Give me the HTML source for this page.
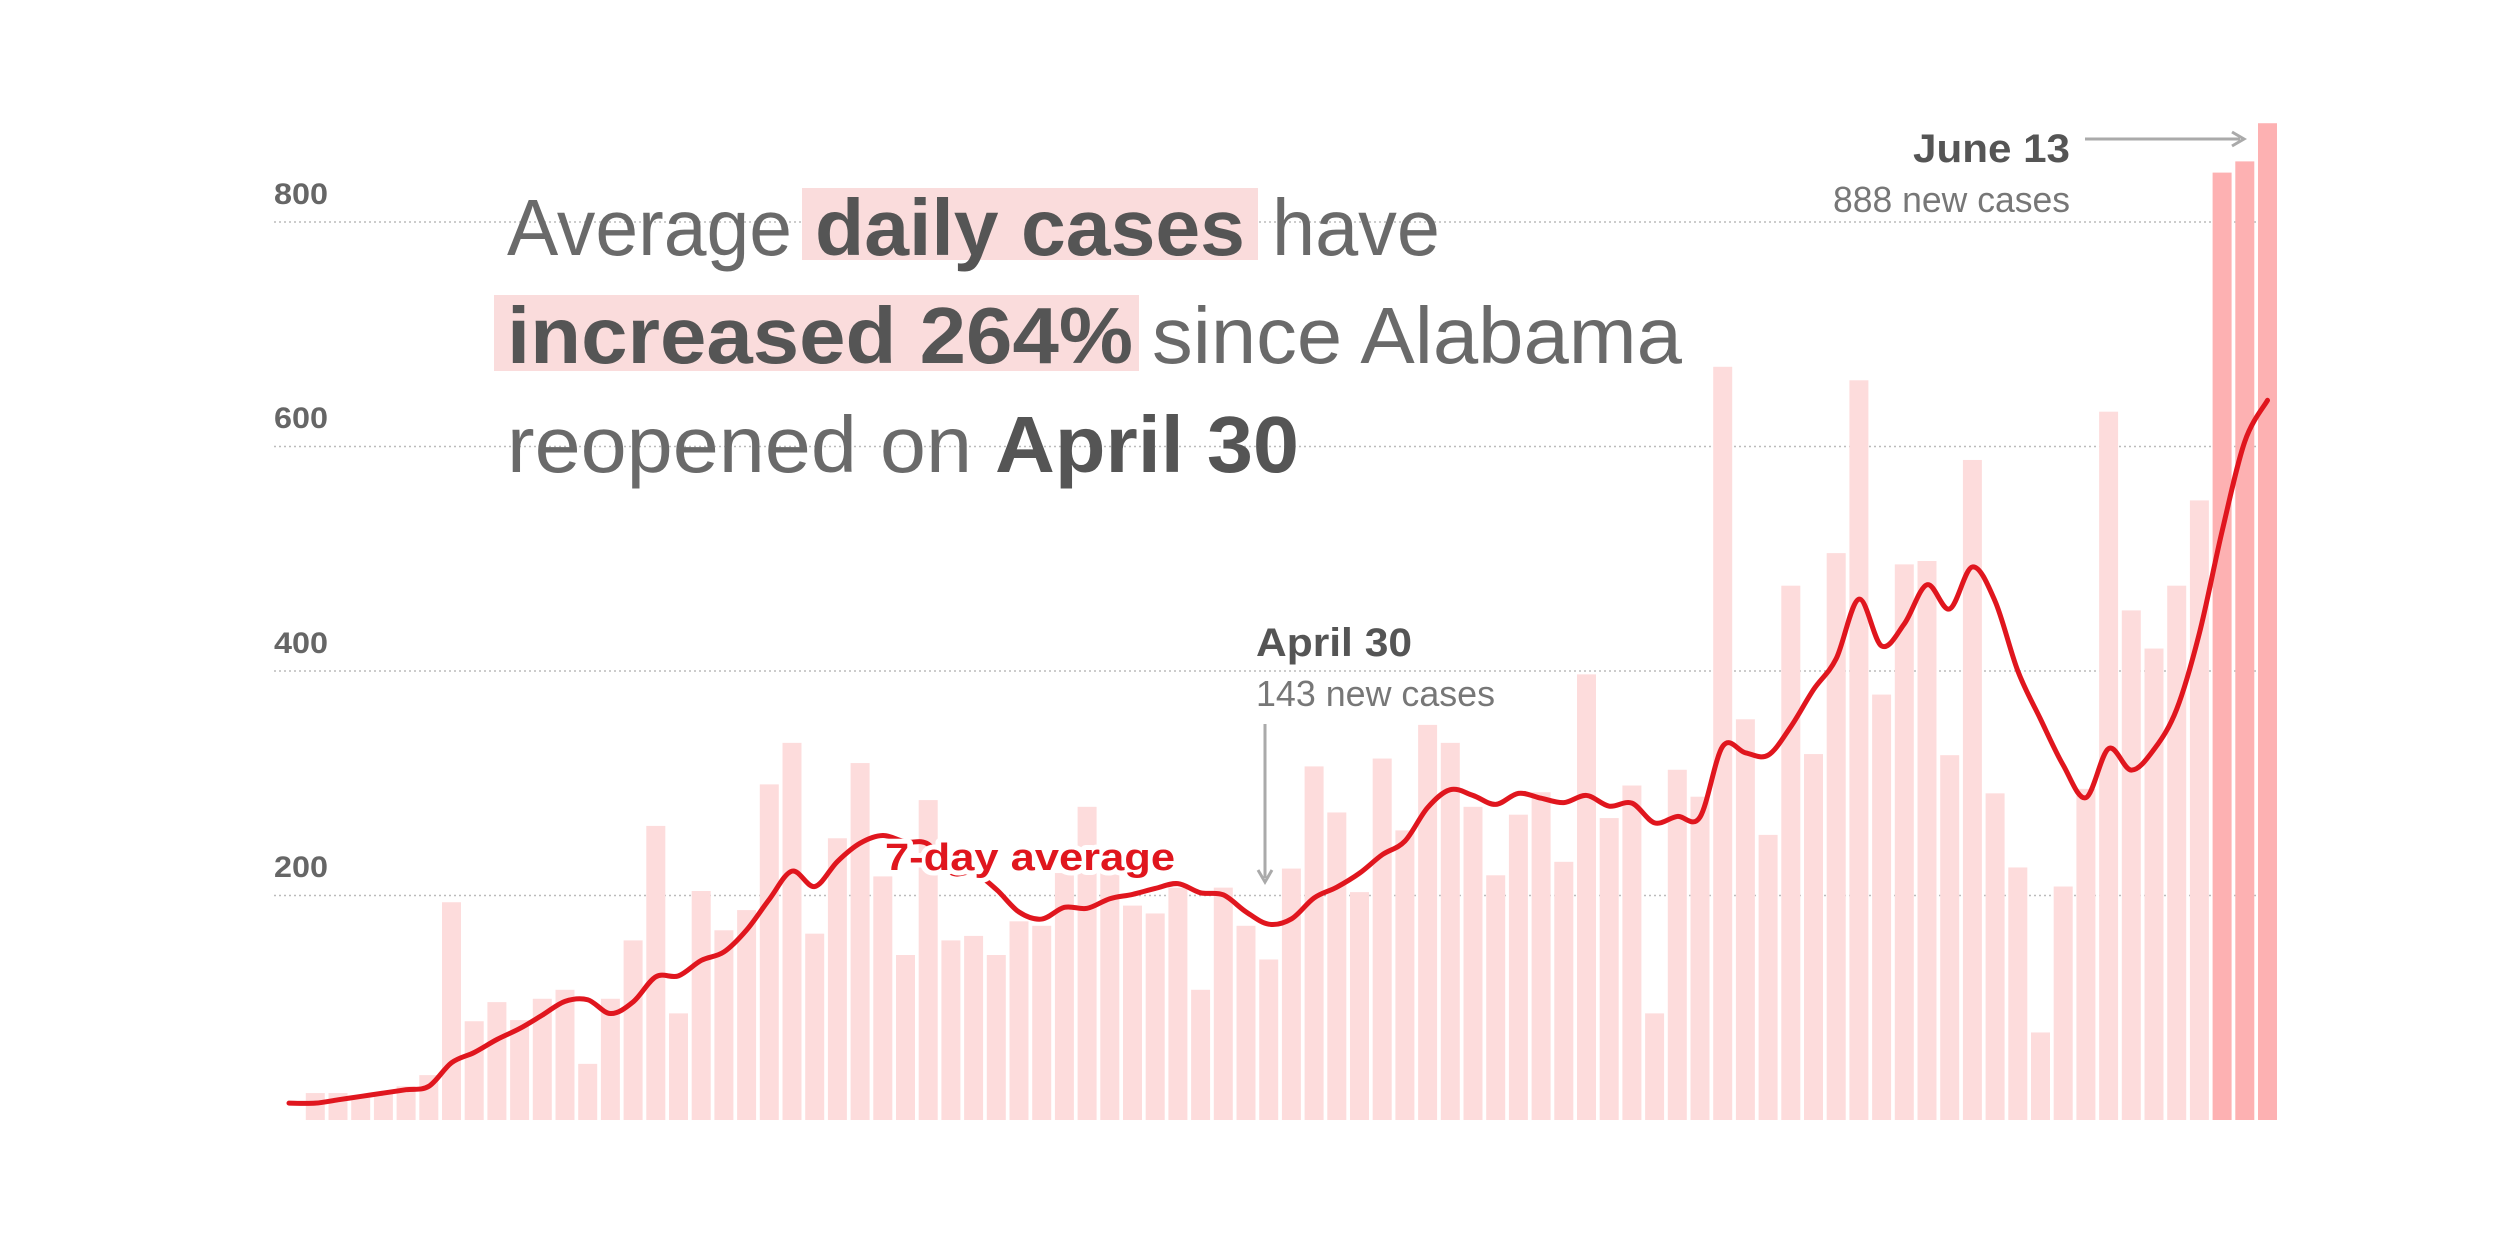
<!DOCTYPE html>
<html><head><meta charset="utf-8">
<style>html,body{margin:0;padding:0;background:#fff}svg{display:block}</style>
</head><body>
<svg id="c" width="2500" height="1250" viewBox="0 0 2500 1250" xmlns="http://www.w3.org/2000/svg" font-family="'Liberation Sans', sans-serif">
<g id="grid"></g>
<g id="bars"></g>
<path id="line" fill="none" stroke="#e0161e" stroke-width="5" stroke-linejoin="round" stroke-linecap="round"/>
<g fill="#666" font-size="30" font-weight="bold">
<text x="274" y="204" textLength="54" lengthAdjust="spacingAndGlyphs">800</text>
<text x="274" y="428" textLength="54" lengthAdjust="spacingAndGlyphs">600</text>
<text x="274" y="653" textLength="54" lengthAdjust="spacingAndGlyphs">400</text>
<text x="274" y="877" textLength="54" lengthAdjust="spacingAndGlyphs">200</text>
</g>
<!-- headline -->
<rect x="802" y="188" width="456" height="72" fill="#fadcdc"/>
<rect x="494" y="295" width="645" height="76" fill="#fadcdc"/>
<g fill="#555" font-size="80">
<text x="507" y="255" fill="#6a6a6a" textLength="285" lengthAdjust="spacingAndGlyphs">Average</text>
<text x="815" y="255" font-weight="bold" textLength="430" lengthAdjust="spacingAndGlyphs">daily cases</text>
<text x="1272" y="255" fill="#6a6a6a" textLength="168" lengthAdjust="spacingAndGlyphs">have</text>
<text x="507" y="363" font-weight="bold" textLength="626" lengthAdjust="spacingAndGlyphs">increased 264%</text>
<text x="1152" y="363" fill="#6a6a6a" textLength="530" lengthAdjust="spacingAndGlyphs">since Alabama</text>
<text x="507" y="472" fill="#6a6a6a" textLength="465" lengthAdjust="spacingAndGlyphs">reopened on</text>
<text x="995" y="472" font-weight="bold" textLength="304" lengthAdjust="spacingAndGlyphs">April 30</text>
</g>
<!-- June 13 -->
<text x="1913" y="162" fill="#555" font-size="40" font-weight="bold" textLength="157" lengthAdjust="spacingAndGlyphs">June 13</text>
<text x="1833" y="212" fill="#777" font-size="36" textLength="237" lengthAdjust="spacingAndGlyphs">888 new cases</text>
<line x1="2085" y1="139" x2="2240" y2="139" stroke="#aaa" stroke-width="3"/>
<path d="M2232 132 L2244 139 L2232 146" fill="none" stroke="#aaa" stroke-width="3"/>
<!-- April 30 -->
<text x="1256" y="656" fill="#555" font-size="40" font-weight="bold" textLength="156" lengthAdjust="spacingAndGlyphs">April 30</text>
<text x="1256" y="706" fill="#777" font-size="36" textLength="239" lengthAdjust="spacingAndGlyphs">143 new cases</text>
<line x1="1265" y1="724" x2="1265" y2="878" stroke="#aaa" stroke-width="3"/>
<path d="M1258 870 L1265 882 L1272 870" fill="none" stroke="#aaa" stroke-width="3"/>
<!-- 7-day label -->
<text x="885" y="870" fill="#e0161e" font-size="38" font-weight="bold" stroke="#fff" stroke-width="10" paint-order="stroke" stroke-linejoin="round" textLength="290" lengthAdjust="spacingAndGlyphs">7-day average</text>
</svg>
<script>
var v=[24,24,21,24,30,40,194,88,105,89,108,116,50,108,160,262,95,204,169,187,299,336,166,251,318,217,147,285,160,164,147,177,173,220,279,220,191,184,207,116,207,173,143,224,315,274,203,322,258,352,336,279,218,272,292,230,397,269,298,95,312,288,671,357,254,476,326,505,659,379,495,498,325,588,291,225,78,208,295,631,454,420,476,552,844,854,888];
var N=v.length,pitch=22.7,bw=19,left=2277-N*pitch+(pitch-bw),base=1120,k=1.1225;
var ns="http://www.w3.org/2000/svg";
var g=document.getElementById('grid');
[200,400,600,800].forEach(function(t){var l=document.createElementNS(ns,'line');var y=base-t*k;
l.setAttribute('x1',274);l.setAttribute('x2',2277);l.setAttribute('y1',y);l.setAttribute('y2',y);
l.setAttribute('stroke','#bbb');l.setAttribute('stroke-width','1.5');l.setAttribute('stroke-dasharray','2 3');g.appendChild(l);});
var b=document.getElementById('bars');
for(var i=0;i<N;i++){var r=document.createElementNS(ns,'rect');var h=v[i]*k;
r.setAttribute('x',left+i*pitch);r.setAttribute('y',base-h);r.setAttribute('width',bw);r.setAttribute('height',h);
r.setAttribute('fill',i>=N-3?'#fdb1b2':'#fddcdc');b.appendChild(r);}
var pts=[[289,base-15*k]];
for(var i=0;i<N;i++){var s=0,c=0;for(var j=Math.max(0,i-6);j<=i;j++){s+=v[j];c++;}
var a=s/c; if(i<6){a=15+i*3;} pts.push([left+i*pitch+bw/2,base-a*k]);}
var d='M'+pts[0][0]+' '+pts[0][1];
for(var i=0;i<pts.length-1;i++){var p0=pts[Math.max(0,i-1)],p1=pts[i],p2=pts[i+1],p3=pts[Math.min(pts.length-1,i+2)];
d+=' C'+(p1[0]+(p2[0]-p0[0])/6)+' '+(p1[1]+(p2[1]-p0[1])/6)+' '+(p2[0]-(p3[0]-p1[0])/6)+' '+(p2[1]-(p3[1]-p1[1])/6)+' '+p2[0]+' '+p2[1];}
document.getElementById('line').setAttribute('d',d);
</script>
</body></html>
